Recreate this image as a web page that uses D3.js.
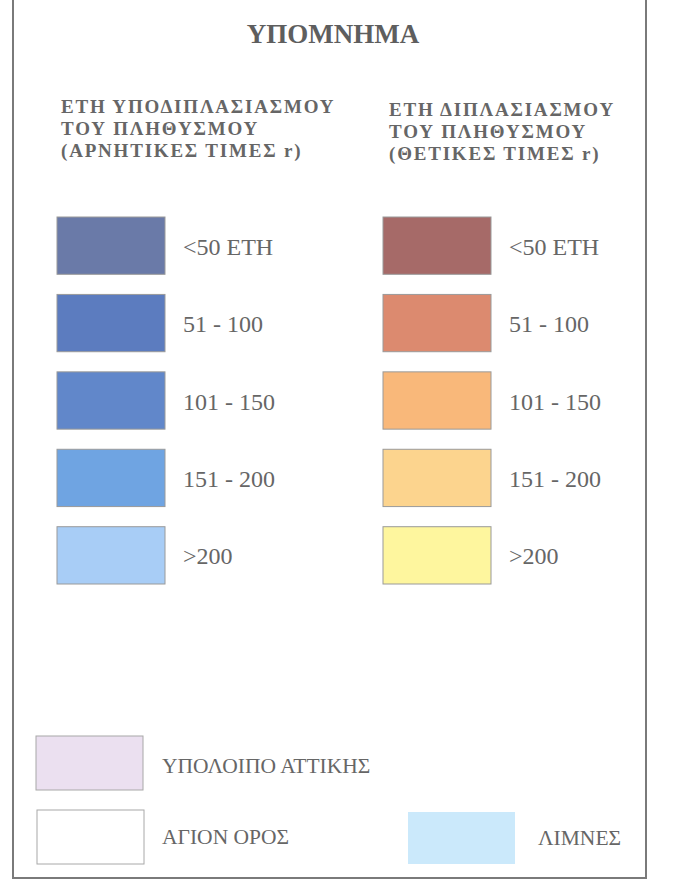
<!DOCTYPE html>
<html><head><meta charset="utf-8">
<script src="https://cdn.jsdelivr.net/npm/d3@7"></script>
<style>html,body{margin:0;padding:0;background:#fff;}</style>
</head><body>
<svg id="c" width="688" height="885"></svg>
<script>
const title = "ΥΠΟΜΝΗΜΑ";
const leftHeader = ["ΕΤΗ ΥΠΟΔΙΠΛΑΣΙΑΣΜΟΥ", "ΤΟΥ ΠΛΗΘΥΣΜΟΥ", "(ΑΡΝΗΤΙΚΕΣ ΤΙΜΕΣ r)"];
const rightHeader = ["ΕΤΗ ΔΙΠΛΑΣΙΑΣΜΟΥ", "ΤΟΥ ΠΛΗΘΥΣΜΟΥ", "(ΘΕΤΙΚΕΣ ΤΙΜΕΣ r)"];
const classes = ["<50 ΕΤΗ", "51 - 100", "101 - 150", "151 - 200", ">200"];
const negColors = ["#6a7aa8", "#5c7cbf", "#6187ca", "#6fa4e2", "#a8cdf6"];
const posColors = ["#a66a68", "#dc8a6f", "#f9b87a", "#fcd48e", "#fef69e"];
const otherLabels = ["ΥΠΟΛΟΙΠΟ ΑΤΤΙΚΗΣ", "ΑΓΙΟΝ ΟΡΟΣ", "ΛΙΜΝΕΣ"];
const otherColors = ["#ebe0f0", "#ffffff", "#cbe9fb"];

const svg = d3.select("#c");
const txt = "#666666";
const serif = "'Liberation Serif','Times New Roman',serif";

// frame
svg.append("rect").attr("x", 13).attr("y", -2).attr("width", 633).attr("height", 880)
  .attr("fill", "none").attr("stroke", "#7a7a7a").attr("stroke-width", 2);

svg.append("text").attr("x", 333).attr("y", 43).attr("text-anchor", "middle")
  .attr("font-family", serif).attr("font-weight", "bold").attr("font-size", 27)
  .attr("fill", "#5e5e5e").text(title);

function header(lines, x, y0) {
  const y = d3.scaleLinear().domain([0, 1]).range([y0, y0 + 22]);
  svg.append("g").selectAll("text").data(lines).join("text")
    .attr("x", x).attr("y", (d, i) => y(i))
    .attr("font-family", serif).attr("font-weight", "bold").attr("font-size", 19)
    .attr("letter-spacing", 1.8)
    .attr("fill", txt).text(d => d);
}
header(leftHeader, 61, 113);
header(rightHeader, 389, 116);

const row = d3.scaleBand().domain(classes).range([217, 584]).paddingInner(0.26).paddingOuter(0);

function column(colors, x) {
  const g = svg.append("g");
  g.selectAll("rect").data(classes).join("rect")
    .attr("x", x).attr("y", d => row(d)).attr("width", 108).attr("height", row.bandwidth())
    .attr("fill", (d, i) => colors[i]).attr("stroke", "#9a9a9a").attr("stroke-width", 1);
  g.selectAll("text").data(classes).join("text")
    .attr("x", x + 126).attr("y", d => row(d) + row.bandwidth() / 2 + 9)
    .attr("font-family", serif).attr("font-size", 24).attr("fill", txt).text(d => d);
}
column(negColors, 57);
column(posColors, 383);

// bottom legend
const bottomPos = [[36, 736], [37, 810], [408, 812]];
const bg = svg.append("g");
bg.selectAll("rect").data(otherLabels).join("rect")
  .attr("x", (d, i) => bottomPos[i][0]).attr("y", (d, i) => bottomPos[i][1])
  .attr("width", 107).attr("height", (d, i) => i === 2 ? 52 : 54)
  .attr("fill", (d, i) => otherColors[i])
  .attr("stroke", (d, i) => i === 2 ? "none" : "#a8a8a8").attr("stroke-width", 1);
bg.selectAll("text").data(otherLabels).join("text")
  .attr("x", (d, i) => i === 2 ? 538 : 162).attr("y", (d, i) => [773, 844, 845][i])
  .attr("font-family", serif).attr("font-size", 21.5).attr("fill", txt).text(d => d);
</script>
</body></html>
